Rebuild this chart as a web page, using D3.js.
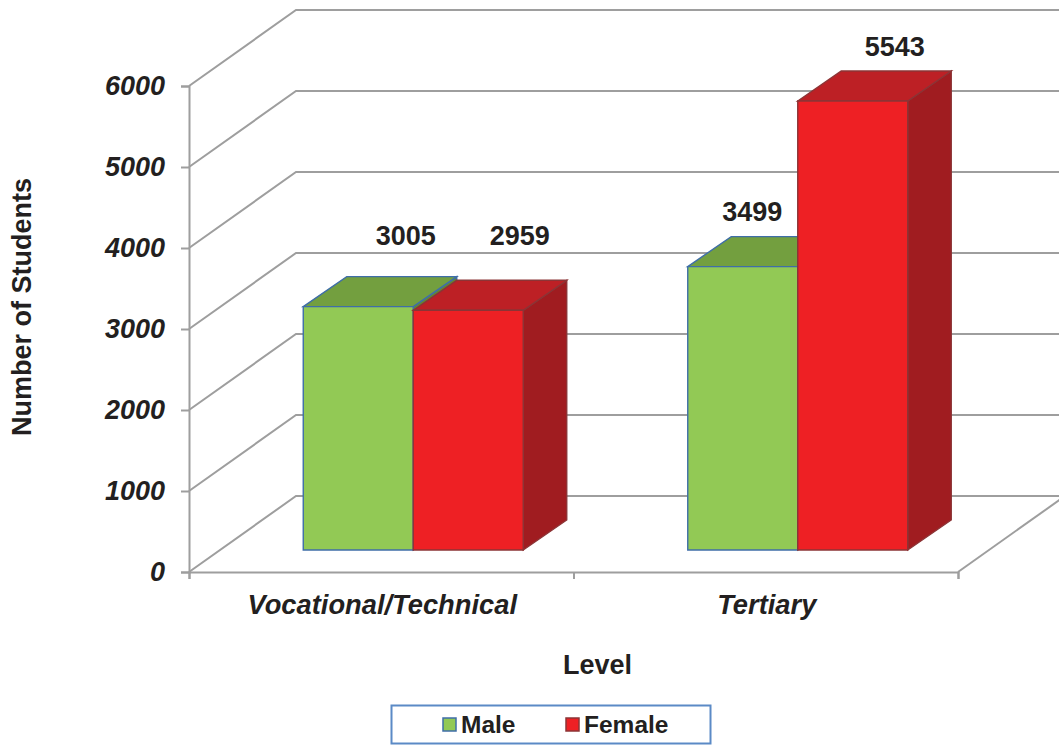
<!DOCTYPE html>
<html>
<head>
<meta charset="utf-8">
<script src="https://cdnjs.cloudflare.com/ajax/libs/d3/7.8.5/d3.min.js"></script>
<style>
html,body{margin:0;padding:0;background:#fff}
svg{display:block}
text{font-family:"Liberation Sans",Arial,sans-serif;font-weight:bold;fill:#231f20}
</style>
</head>
<body>
<svg id="c" width="1059" height="745"></svg>
<script>
const categories = ["Vocational/Technical", "Tertiary"];
const seriesNames = ["Male", "Female"];
const maleValues = [3005, 3499];
const femaleValues = [2959, 5543];
const yTicks = [0, 1000, 2000, 3000, 4000, 5000, 6000];

const fills = {
  Male:   {front:"#92c955", top:"#739f3f", side:"#5f8a35", stroke:"#3f6ea8"},
  Female: {front:"#ee2024", top:"#bd2025", side:"#a01c20", stroke:"#8c3436"}
};
const GRID = "#9e9e9e";
const W = 1059, H = 745;
const x0 = 189, x1 = 958, y0 = 572, yTop = 86;
const wallDx = 107, wallDy = -76;      // depth of the floor
const barDx = 32,  barDy = -22;        // front of the bars, behind the front edge
const depthDx = 43.5, depthDy = -30;   // depth of each bar

const svg = d3.select("#c");
const y = d3.scaleLinear().domain([0, 6000]).range([y0, yTop]);
const xBand = d3.scaleBand().domain(categories).range([x0, x1]);
const xInner = d3.scaleBand().domain(seriesNames).range([0, 220]);
const line = d3.line();

// walls
const grid = svg.append("g").attr("fill", "none").attr("stroke", GRID).attr("stroke-width", 2);
grid.selectAll("path.wall").data(yTicks).join("path").attr("class", "wall")
  .attr("d", v => line([[x0, y(v)], [x0 + wallDx, y(v) + wallDy], [W + 2, y(v) + wallDy]]));
grid.append("path").attr("d", line([[x1, y0], [x1 + wallDx + 2, y0 + wallDy - 1.4]]));

// axes
const yAxis = d3.axisLeft(y).tickValues(yTicks).tickSize(8).tickPadding(16).tickFormat(d3.format("d"));
const gy = svg.append("g").attr("transform", `translate(${x0},0)`).call(yAxis);
gy.selectAll("path,line").attr("stroke", GRID).attr("stroke-width", 2);
gy.selectAll("text").attr("font-size", 27).attr("font-style", "italic").attr("fill", "#231f20")
  .attr("font-family", '"Liberation Sans",Arial,sans-serif').attr("font-weight", "bold");

const edge = d3.scaleLinear().domain([0, categories.length]).range([x0, x1]);
const xAxis = d3.axisBottom(edge).tickValues(d3.range(categories.length + 1)).tickSize(7).tickFormat("");
const gx = svg.append("g").attr("transform", `translate(0,${y0})`).call(xAxis);
gx.selectAll("path,line").attr("stroke", GRID).attr("stroke-width", 2);

// bars
const rows = [];
categories.forEach((c, i) => {
  rows.push({c, s:"Male", v:maleValues[i]});
  rows.push({c, s:"Female", v:femaleValues[i]});
});
const barG = svg.append("g").attr("stroke-linejoin", "miter");
rows.forEach(d => {
  const f = fills[d.s];
  const cx = xBand(d.c) + xBand.bandwidth() / 2 + barDx;
  const L = cx - 110 + xInner(d.s);
  const R = L + xInner.bandwidth();
  const B = y(0) + barDy;
  const T = y(d.v) + barDy;
  const g = barG.append("g").attr("stroke", f.stroke).attr("stroke-width", 1.4);
  g.append("path").attr("fill", f.side)
    .attr("d", line([[R, T], [R + depthDx, T + depthDy], [R + depthDx, B + depthDy], [R, B]]) + "Z");
  g.append("path").attr("fill", f.top)
    .attr("d", line([[L, T], [L + depthDx, T + depthDy], [R + depthDx, T + depthDy], [R, T]]) + "Z");
  g.append("path").attr("fill", f.front)
    .attr("d", line([[L, T], [R, T], [R, B], [L, B]]) + "Z");
});

// value labels
const nudges = [[47.5, -62], [51.5, -65], [9.5, -46], [42, -45.5]];
rows.forEach((d, i) => {
  const cx = xBand(d.c) + xBand.bandwidth() / 2 + barDx - 110 + xInner(d.s) + xInner.bandwidth() / 2;
  svg.append("text").attr("x", cx + nudges[i][0]).attr("y", y(d.v) + barDy + nudges[i][1])
    .attr("text-anchor", "middle").attr("font-size", 27).text(d.v);
});

// category labels
svg.selectAll("text.cat").data(categories).join("text").attr("class", "cat")
  .attr("x", d => xBand(d) + xBand.bandwidth() / 2 + 1).attr("y", 614)
  .attr("text-anchor", "middle").attr("font-size", 27.3).attr("font-style", "italic").text(d => d);

// axis titles
svg.append("text").attr("x", 597.5).attr("y", 674).attr("text-anchor", "middle").attr("font-size", 27).text("Level");
svg.append("text").attr("transform", "translate(31,307) rotate(-90)").attr("text-anchor", "middle")
  .attr("font-size", 27).text("Number of Students");

// legend
svg.append("rect").attr("x", 391.5).attr("y", 705.5).attr("width", 319).attr("height", 38)
  .attr("fill", "#fff").attr("stroke", "#5b8ac6").attr("stroke-width", 2);
const legendX = d3.scaleOrdinal().domain(seriesNames).range([443, 566]);
seriesNames.forEach(s => {
  svg.append("rect").attr("x", legendX(s)).attr("y", 718).attr("width", 13).attr("height", 13)
    .attr("fill", fills[s].front).attr("stroke", fills[s].stroke).attr("stroke-width", 1.5);
  svg.append("text").attr("x", legendX(s) + 18).attr("y", 733).attr("font-size", 24.5).text(s);
});
</script>
</body>
</html>
